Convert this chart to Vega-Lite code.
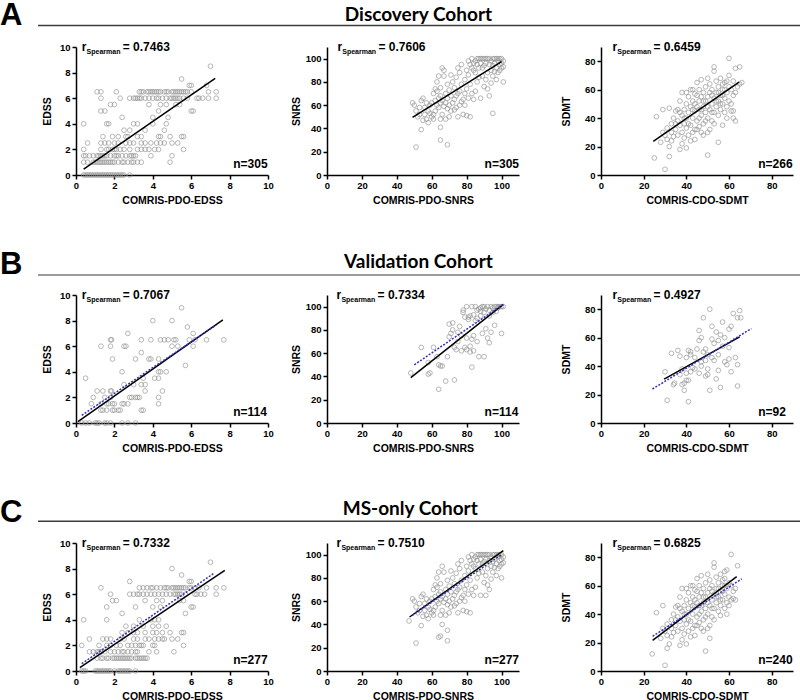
{
"$schema":"https://vega.github.io/schema/vega-lite/v6.json",
"padding":0,
"background":"white",
"config":{
 "view":{"stroke":null},
 "font":"Liberation Sans",
 "text":{"font":"Liberation Sans","color":"black"},
 "axis":{"grid":false,"labelOverlap":false,"tickCount":12,"domainColor":"black","domainWidth":1.5,"tickColor":"black","tickWidth":1.5,"tickSize":4,"labelFont":"Liberation Sans","labelFontWeight":"bold","labelFontSize":9.5,"labelColor":"black","labelFlush":false,"titleFont":"Liberation Sans","titleFontWeight":"bold","titleFontSize":10.5,"titleColor":"black"},
 "axisX":{"labelPadding":1,"titleY":28,"titleBaseline":"alphabetic"},
 "axisY":{"labelPadding":2,"titleAngle":270,"titleBaseline":"alphabetic","titleAlign":"center","titleY":64}
},
"datasets":{
"A_E":[
{"x":0.4,"y":0},{"x":0.5,"y":0},{"x":0.6,"y":0},{"x":0.7,"y":0},{"x":0.8,"y":0},{"x":0.9,"y":0},{"x":1,"y":0},{"x":1.1,"y":0},{"x":1.2,"y":0},{"x":1.3,"y":0},{"x":1.4,"y":0},{"x":1.5,"y":0},{"x":1.6,"y":0},{"x":1.7,"y":0},{"x":1.8,"y":0},{"x":1.9,"y":0},{"x":2,"y":0},{"x":2.1,"y":0},{"x":2.2,"y":0},{"x":2.3,"y":0},{"x":2.4,"y":0},{"x":2.5,"y":0},{"x":2.8,"y":0},
{"x":0.4,"y":1},{"x":0.6,"y":1},{"x":0.9,"y":1},{"x":1,"y":1},{"x":1.1,"y":1},{"x":1.2,"y":1},{"x":1.3,"y":1},{"x":1.4,"y":1},{"x":1.5,"y":1},{"x":1.6,"y":1},{"x":1.7,"y":1},{"x":1.8,"y":1},{"x":1.9,"y":1},{"x":2,"y":1},{"x":2.2,"y":1},{"x":2.4,"y":1},{"x":2.5,"y":1},{"x":2.7,"y":1},{"x":2.9,"y":1},{"x":3,"y":1},{"x":3.2,"y":1},{"x":3.4,"y":1},{"x":4.9,"y":1},
{"x":0.4,"y":1.5},{"x":0.5,"y":1.5},{"x":0.7,"y":1.5},{"x":0.9,"y":1.5},{"x":1.1,"y":1.5},{"x":1.2,"y":1.5},{"x":1.3,"y":1.5},{"x":1.4,"y":1.5},{"x":1.5,"y":1.5},{"x":1.6,"y":1.5},{"x":1.8,"y":1.5},{"x":2,"y":1.5},{"x":2.1,"y":1.5},{"x":2.2,"y":1.5},{"x":2.4,"y":1.5},{"x":2.6,"y":1.5},{"x":2.8,"y":1.5},{"x":2.9,"y":1.5},{"x":3,"y":1.5},{"x":3.1,"y":1.5},{"x":3.9,"y":1.5},{"x":5,"y":1.5},
{"x":0.4,"y":2},{"x":1.3,"y":2},{"x":1.6,"y":2},{"x":1.7,"y":2},{"x":1.9,"y":2},{"x":2,"y":2},{"x":2.1,"y":2},{"x":2.3,"y":2},{"x":2.5,"y":2},{"x":2.8,"y":2},{"x":3.2,"y":2},{"x":3.4,"y":2},{"x":3.6,"y":2},{"x":3.8,"y":2},{"x":4.1,"y":2},{"x":4.3,"y":2},{"x":5.6,"y":2},
{"x":0.6,"y":2.5},{"x":1.3,"y":2.5},{"x":1.5,"y":2.5},{"x":1.7,"y":2.5},{"x":2,"y":2.5},{"x":2.2,"y":2.5},{"x":2.6,"y":2.5},{"x":2.8,"y":2.5},{"x":3,"y":2.5},{"x":3.4,"y":2.5},{"x":3.6,"y":2.5},{"x":3.9,"y":2.5},{"x":4.2,"y":2.5},{"x":4.4,"y":2.5},{"x":4.6,"y":2.5},{"x":5,"y":2.5},{"x":5.3,"y":2.5},
{"x":1.4,"y":3},{"x":1.9,"y":3},{"x":2.2,"y":3},{"x":2.6,"y":3},{"x":2.7,"y":3},{"x":3.2,"y":3},{"x":3.4,"y":3},{"x":4.3,"y":3},{"x":4.4,"y":3},{"x":4.9,"y":3},{"x":5.5,"y":3},{"x":5.6,"y":3},
{"x":2.5,"y":3.5},{"x":2.8,"y":3.5},{"x":3.6,"y":3.5},{"x":4.6,"y":3.5},
{"x":0.4,"y":4},{"x":1.6,"y":4},{"x":1.7,"y":4},{"x":3,"y":4},{"x":3.2,"y":4},{"x":4,"y":4},{"x":4.7,"y":4},
{"x":2.4,"y":4.5},{"x":4,"y":4.5},{"x":4.8,"y":4.5},
{"x":1.3,"y":5},{"x":1.5,"y":5},{"x":4.3,"y":5},{"x":6,"y":5},{"x":6.1,"y":5},
{"x":1.8,"y":5.5},{"x":2,"y":5.5},{"x":3.8,"y":5.5},{"x":4.4,"y":5.5},{"x":4.7,"y":5.5},{"x":5.2,"y":5.5},{"x":5.4,"y":5.5},
{"x":1.3,"y":6},{"x":2.3,"y":6},{"x":2.8,"y":6},{"x":3,"y":6},{"x":3.1,"y":6},{"x":3.2,"y":6},{"x":3.3,"y":6},{"x":3.4,"y":6},{"x":3.6,"y":6},{"x":3.8,"y":6},{"x":4,"y":6},{"x":4.2,"y":6},{"x":4.3,"y":6},{"x":4.5,"y":6},{"x":4.7,"y":6},{"x":4.9,"y":6},{"x":5,"y":6},{"x":5.1,"y":6},{"x":5.2,"y":6},{"x":5.3,"y":6},{"x":5.4,"y":6},{"x":5.6,"y":6},{"x":5.8,"y":6},{"x":6.3,"y":6},{"x":6.4,"y":6},{"x":6.6,"y":6},{"x":6.9,"y":6},{"x":7.3,"y":6},
{"x":1.1,"y":6.5},{"x":1.3,"y":6.5},{"x":2.1,"y":6.5},{"x":3.3,"y":6.5},{"x":3.4,"y":6.5},{"x":3.5,"y":6.5},{"x":3.7,"y":6.5},{"x":3.8,"y":6.5},{"x":3.9,"y":6.5},{"x":4,"y":6.5},{"x":4.1,"y":6.5},{"x":4.2,"y":6.5},{"x":4.3,"y":6.5},{"x":4.4,"y":6.5},{"x":4.6,"y":6.5},{"x":4.7,"y":6.5},{"x":4.8,"y":6.5},{"x":5,"y":6.5},{"x":5.1,"y":6.5},{"x":5.2,"y":6.5},{"x":5.3,"y":6.5},{"x":5.4,"y":6.5},{"x":5.5,"y":6.5},{"x":5.6,"y":6.5},{"x":5.7,"y":6.5},{"x":5.8,"y":6.5},{"x":6,"y":6.5},{"x":6.9,"y":6.5},{"x":7.3,"y":6.5},
{"x":5.9,"y":7},{"x":6,"y":7},{"x":6.8,"y":7},{"x":5.5,"y":7.5},{"x":7,"y":8.5}
],
"A_S":[
{"x":51,"y":24},{"x":65,"y":30},{"x":69,"y":26},{"x":65,"y":41},{"x":54,"y":39},{"x":95,"y":53},{"x":101,"y":80},
{"x":49,"y":62},{"x":50,"y":60},{"x":51,"y":55},{"x":52,"y":50},{"x":53,"y":58},{"x":54,"y":64},{"x":55,"y":66},{"x":56,"y":52},{"x":57,"y":48},{"x":58,"y":45},{"x":58,"y":55},{"x":59,"y":60},{"x":60,"y":62},{"x":60,"y":50},{"x":56,"y":58},{"x":53,"y":52},{"x":55,"y":47},{"x":57,"y":62},{"x":59,"y":53},{"x":61,"y":48},
{"x":61,"y":70},{"x":62,"y":64},{"x":62,"y":55},{"x":63,"y":60},{"x":63,"y":72},{"x":64,"y":66},{"x":64,"y":58},{"x":65,"y":62},{"x":65,"y":68},{"x":65,"y":75},{"x":66,"y":52},{"x":66,"y":64},{"x":67,"y":59},{"x":67,"y":85},{"x":67,"y":90},{"x":68,"y":70},{"x":68,"y":62},{"x":68,"y":48},{"x":69,"y":57},{"x":69,"y":66},{"x":69,"y":78},{"x":70,"y":60},{"x":70,"y":73},{"x":66,"y":92},{"x":64,"y":85},{"x":63,"y":80},{"x":61,"y":52},{"x":62,"y":74},{"x":65,"y":48},{"x":70,"y":50},
{"x":71,"y":68},{"x":71,"y":55},{"x":72,"y":80},{"x":72,"y":62},{"x":73,"y":65},{"x":73,"y":75},{"x":74,"y":58},{"x":74,"y":84},{"x":75,"y":70},{"x":75,"y":50},{"x":76,"y":72},{"x":76,"y":88},{"x":77,"y":63},{"x":77,"y":78},{"x":78,"y":65},{"x":78,"y":52},{"x":79,"y":82},{"x":79,"y":70},{"x":80,"y":90},{"x":80,"y":74},{"x":71,"y":86},{"x":73,"y":56},{"x":75,"y":92},{"x":77,"y":95},{"x":79,"y":60},{"x":74,"y":68},{"x":76,"y":60},
{"x":81,"y":66},{"x":81,"y":86},{"x":82,"y":78},{"x":82,"y":95},{"x":83,"y":92},{"x":83,"y":70},{"x":84,"y":96},{"x":84,"y":65},{"x":85,"y":88},{"x":85,"y":98},{"x":86,"y":100},{"x":86,"y":80},{"x":87,"y":92},{"x":87,"y":100},{"x":88,"y":96},{"x":88,"y":66},{"x":89,"y":85},{"x":89,"y":100},{"x":90,"y":94},{"x":90,"y":76},{"x":81,"y":98},{"x":83,"y":100},{"x":84,"y":90},{"x":85,"y":72},{"x":86,"y":95},{"x":87,"y":84},{"x":88,"y":100},{"x":89,"y":92},{"x":82,"y":50},{"x":80,"y":51},
{"x":91,"y":100},{"x":91,"y":96},{"x":92,"y":88},{"x":92,"y":100},{"x":93,"y":95},{"x":93,"y":100},{"x":94,"y":90},{"x":94,"y":98},{"x":95,"y":100},{"x":95,"y":85},{"x":96,"y":96},{"x":96,"y":100},{"x":97,"y":92},{"x":97,"y":100},{"x":98,"y":98},{"x":98,"y":88},{"x":99,"y":100},{"x":99,"y":95},{"x":100,"y":100},{"x":100,"y":96},{"x":101,"y":98},{"x":101,"y":93},{"x":91,"y":82},{"x":92,"y":74},{"x":93,"y":68},{"x":94,"y":79},{"x":96,"y":89},{"x":97,"y":82},{"x":99,"y":90},{"x":90,"y":100},{"x":95,"y":94},{"x":98,"y":100},{"x":100,"y":92}
],
"A_D":[
{"x":25,"y":12},{"x":30,"y":4},{"x":26,"y":41},{"x":32,"y":13},{"x":29,"y":46},{"x":32,"y":47},{"x":50,"y":14},{"x":55,"y":23},{"x":60,"y":82},{"x":65,"y":76},{"x":63,"y":75},{"x":62,"y":40},{"x":63,"y":38},{"x":62,"y":45},{"x":57,"y":35},
{"x":28,"y":23},{"x":29,"y":30},{"x":30,"y":28},{"x":31,"y":33},{"x":31,"y":25},{"x":32,"y":20},{"x":33,"y":30},{"x":33,"y":36},{"x":34,"y":27},{"x":34,"y":40},{"x":35,"y":32},{"x":35,"y":45},{"x":36,"y":28},{"x":36,"y":38},{"x":37,"y":18},{"x":37,"y":35},{"x":37,"y":52},{"x":38,"y":30},{"x":38,"y":42},{"x":38,"y":58},{"x":39,"y":26},{"x":39,"y":36},{"x":39,"y":46},{"x":40,"y":19},{"x":40,"y":33},{"x":40,"y":40},{"x":40,"y":50},{"x":41,"y":28},{"x":41,"y":44},{"x":41,"y":55},{"x":42,"y":35},{"x":42,"y":48},{"x":42,"y":60},{"x":43,"y":30},{"x":43,"y":40},{"x":43,"y":52},{"x":44,"y":25},{"x":44,"y":45},{"x":44,"y":57},{"x":45,"y":38},{"x":45,"y":48},{"x":45,"y":65},{"x":46,"y":34},{"x":46,"y":52},{"x":46,"y":60},{"x":47,"y":42},{"x":47,"y":55},{"x":47,"y":67},{"x":48,"y":36},{"x":48,"y":48},{"x":48,"y":58},{"x":49,"y":44},{"x":49,"y":52},{"x":49,"y":62},{"x":50,"y":30},{"x":50,"y":40},{"x":50,"y":55},{"x":50,"y":68},{"x":51,"y":46},{"x":51,"y":58},{"x":51,"y":64},{"x":52,"y":38},{"x":52,"y":50},{"x":52,"y":60},{"x":53,"y":44},{"x":53,"y":54},{"x":53,"y":76},{"x":53,"y":73},{"x":54,"y":48},{"x":54,"y":58},{"x":54,"y":66},{"x":55,"y":42},{"x":55,"y":52},{"x":55,"y":62},{"x":56,"y":46},{"x":56,"y":56},{"x":56,"y":68},{"x":57,"y":50},{"x":57,"y":60},{"x":57,"y":64},{"x":58,"y":44},{"x":58,"y":54},{"x":58,"y":65},{"x":59,"y":48},{"x":59,"y":58},{"x":59,"y":66},{"x":60,"y":52},{"x":60,"y":62},{"x":60,"y":70},{"x":61,"y":50},{"x":61,"y":60},{"x":62,"y":56},{"x":62,"y":66},{"x":63,"y":58},{"x":64,"y":62},{"x":65,"y":64},{"x":66,"y":65},{"x":36,"y":46},{"x":38,"y":22},{"x":40,"y":58},{"x":42,"y":24},{"x":44,"y":32},{"x":46,"y":40},{"x":48,"y":28},{"x":47,"y":46},{"x":45,"y":56},{"x":43,"y":46},{"x":41,"y":36},{"x":39,"y":40},{"x":37,"y":44},{"x":35,"y":36},{"x":33,"y":24},{"x":44,"y":50},{"x":46,"y":46},{"x":48,"y":52},{"x":50,"y":48},{"x":52,"y":56},{"x":54,"y":52},{"x":56,"y":50},{"x":58,"y":60},{"x":52,"y":44},{"x":49,"y":38},{"x":51,"y":32},{"x":47,"y":30},{"x":43,"y":60},{"x":45,"y":32},{"x":53,"y":36},{"x":55,"y":58},{"x":57,"y":56},{"x":59,"y":40},{"x":61,"y":45}
],
"B_E":[
{"x":0.3,"y":0},{"x":0.5,"y":0},{"x":0.7,"y":0},{"x":1,"y":0},{"x":1.1,"y":0},{"x":1.2,"y":0},{"x":1.5,"y":0},{"x":1.6,"y":0},{"x":1.8,"y":0},{"x":2.4,"y":0},{"x":2.7,"y":0},{"x":3.1,"y":0},
{"x":1.3,"y":1},{"x":1.4,"y":1},{"x":1.6,"y":1},{"x":1.9,"y":1},{"x":2,"y":1},{"x":2.2,"y":1},{"x":2.3,"y":1},{"x":3.4,"y":1},{"x":3.5,"y":1},
{"x":0.8,"y":1.5},{"x":1.3,"y":1.5},{"x":1.6,"y":1.5},{"x":1.7,"y":1.5},{"x":1.9,"y":1.5},{"x":2,"y":1.5},{"x":2.4,"y":1.5},{"x":2.5,"y":1.5},{"x":2.7,"y":1.5},{"x":4.3,"y":1.5},
{"x":0.9,"y":2},{"x":1.5,"y":2},{"x":1.8,"y":2},{"x":2.8,"y":2},{"x":2.9,"y":2},{"x":3.1,"y":2},{"x":3.2,"y":2},{"x":3.3,"y":2},{"x":4.3,"y":2},
{"x":1.1,"y":2.5},{"x":1.4,"y":2.5},{"x":1.8,"y":2.5},{"x":1.85,"y":2.5},{"x":3.6,"y":2.5},{"x":4.5,"y":2.5},
{"x":2.5,"y":3},{"x":3,"y":3},{"x":3.4,"y":3},{"x":3.6,"y":3},
{"x":0.5,"y":3.5},{"x":3.5,"y":3.5},{"x":4.1,"y":3.5},{"x":4.3,"y":3.5},
{"x":2.4,"y":4},{"x":4.3,"y":4},{"x":4.4,"y":4},{"x":4.7,"y":4},
{"x":5.7,"y":4.5},
{"x":1.9,"y":5},{"x":3.1,"y":5},{"x":3.8,"y":5},{"x":3.9,"y":5},{"x":4.3,"y":5},
{"x":3.4,"y":5.5},
{"x":1.3,"y":6},{"x":1.8,"y":6},{"x":2.5,"y":6},{"x":2.6,"y":6},{"x":5,"y":6},{"x":5.3,"y":6},{"x":6.1,"y":6},
{"x":1.8,"y":6.5},{"x":1.85,"y":6.5},{"x":3.4,"y":6.5},{"x":3.9,"y":6.5},{"x":4.4,"y":6.5},{"x":4.6,"y":6.5},{"x":4.8,"y":6.5},{"x":5.1,"y":6.5},{"x":5.2,"y":6.5},{"x":5.9,"y":6.5},{"x":6.2,"y":6.5},{"x":6.8,"y":6.5},{"x":7.7,"y":6.5},
{"x":2.7,"y":7},{"x":6.1,"y":7},{"x":5.8,"y":7.5},{"x":4,"y":8},{"x":5,"y":8},{"x":5.5,"y":9}
],
"B_S":[
{"x":48,"y":43},{"x":54,"y":65},{"x":58,"y":42},{"x":59,"y":43},{"x":58,"y":52},{"x":61,"y":65},{"x":63,"y":57},{"x":64,"y":50},{"x":65,"y":49},{"x":66,"y":49},{"x":64,"y":29},{"x":68,"y":36},{"x":73,"y":37},{"x":69,"y":57},{"x":70,"y":74},{"x":70,"y":85},{"x":72,"y":86},{"x":71,"y":77},{"x":72,"y":80},{"x":73,"y":65},{"x":74,"y":63},{"x":75,"y":70},{"x":75,"y":78},{"x":76,"y":83},{"x":77,"y":62},{"x":78,"y":95},{"x":78,"y":97},{"x":79,"y":65},{"x":80,"y":63},{"x":80,"y":73},{"x":81,"y":89},{"x":81,"y":91},{"x":82,"y":61},{"x":82,"y":66},{"x":83,"y":48},{"x":83,"y":72},{"x":84,"y":75},{"x":84,"y":93},{"x":85,"y":100},{"x":85,"y":88},{"x":86,"y":97},{"x":86,"y":70},{"x":87,"y":98},{"x":87,"y":57},{"x":88,"y":99},{"x":88,"y":92},{"x":89,"y":100},{"x":89,"y":77},{"x":90,"y":57},{"x":90,"y":100},{"x":91,"y":98},{"x":91,"y":81},{"x":92,"y":73},{"x":92,"y":100},{"x":93,"y":69},{"x":93,"y":97},{"x":94,"y":100},{"x":94,"y":78},{"x":95,"y":99},{"x":95,"y":95},{"x":96,"y":100},{"x":96,"y":84},{"x":97,"y":100},{"x":97,"y":96},{"x":98,"y":99},{"x":98,"y":100},{"x":99,"y":100},{"x":100,"y":100},{"x":100,"y":77},{"x":101,"y":100},{"x":83,"y":100},{"x":80,"y":100},{"x":82,"y":92},{"x":86,"y":90},{"x":84,"y":62},{"x":77,"y":75},{"x":79,"y":91},{"x":90,"y":95},{"x":93,"y":92},{"x":88,"y":96}
],
"B_D":[
{"x":30,"y":36},{"x":31,"y":16},{"x":33,"y":49},{"x":34,"y":27},{"x":34.5,"y":28},{"x":36,"y":51},{"x":37,"y":47},{"x":37,"y":34},{"x":38,"y":38},{"x":38,"y":27},{"x":39,"y":23},{"x":39,"y":28},{"x":40,"y":30},{"x":40,"y":35},{"x":40,"y":46},{"x":41,"y":15},{"x":41,"y":51},{"x":41,"y":30},{"x":42,"y":50},{"x":42,"y":36},{"x":43,"y":39},{"x":44,"y":46},{"x":44,"y":38},{"x":45,"y":52},{"x":46,"y":65},{"x":46,"y":58},{"x":47,"y":60},{"x":47,"y":43},{"x":47,"y":40},{"x":48,"y":74},{"x":48,"y":50},{"x":49,"y":52},{"x":49,"y":44},{"x":50,"y":48},{"x":50,"y":38},{"x":50,"y":34},{"x":51,"y":80},{"x":51,"y":23},{"x":52,"y":68},{"x":52,"y":59},{"x":52,"y":46},{"x":53,"y":56},{"x":53,"y":44},{"x":54,"y":64},{"x":54,"y":31},{"x":55,"y":58},{"x":55,"y":37},{"x":55,"y":48},{"x":56,"y":62},{"x":56,"y":25},{"x":57,"y":54},{"x":57,"y":71},{"x":58,"y":43},{"x":58,"y":60},{"x":59,"y":41},{"x":60,"y":53},{"x":60,"y":66},{"x":60,"y":45},{"x":61,"y":36},{"x":61,"y":68},{"x":62,"y":77},{"x":63,"y":46},{"x":64,"y":41},{"x":64,"y":26},{"x":64,"y":74},{"x":65,"y":79},{"x":65.5,"y":74},{"x":49,"y":33},{"x":46,"y":35},{"x":42,"y":48}
],
"C_E":[
{"x":0.3,"y":0},{"x":0.4,"y":0},{"x":0.5,"y":0},{"x":1,"y":0},{"x":1.1,"y":0},{"x":1.2,"y":0},{"x":1.3,"y":0},{"x":1.4,"y":0},{"x":1.5,"y":0},{"x":1.6,"y":0},{"x":1.7,"y":0},{"x":1.8,"y":0},{"x":2,"y":0},{"x":2.2,"y":0},{"x":2.3,"y":0},{"x":2.4,"y":0},{"x":2.5,"y":0},{"x":2.6,"y":0},{"x":2.7,"y":0},{"x":2.8,"y":0},{"x":3.1,"y":0},
{"x":1.1,"y":1},{"x":1.3,"y":1},{"x":1.4,"y":1},{"x":1.6,"y":1},{"x":1.7,"y":1},{"x":1.9,"y":1},{"x":2,"y":1},{"x":2.1,"y":1},{"x":2.2,"y":1},{"x":2.3,"y":1},{"x":2.4,"y":1},{"x":2.5,"y":1},{"x":2.6,"y":1},{"x":2.7,"y":1},{"x":2.8,"y":1},{"x":2.9,"y":1},{"x":3.1,"y":1},{"x":3.2,"y":1},{"x":3.3,"y":1},{"x":3.4,"y":1},{"x":3.5,"y":1},{"x":3.6,"y":1},{"x":3.7,"y":1},
{"x":0.7,"y":1.5},{"x":0.9,"y":1.5},{"x":1.1,"y":1.5},{"x":1.2,"y":1.5},{"x":1.3,"y":1.5},{"x":1.5,"y":1.5},{"x":1.8,"y":1.5},{"x":2,"y":1.5},{"x":2.2,"y":1.5},{"x":2.4,"y":1.5},{"x":2.5,"y":1.5},{"x":2.7,"y":1.5},{"x":2.9,"y":1.5},{"x":3.1,"y":1.5},{"x":3.2,"y":1.5},{"x":3.8,"y":1.5},{"x":4.2,"y":1.5},{"x":5.1,"y":1.5},
{"x":0.3,"y":2},{"x":1.2,"y":2},{"x":1.6,"y":2},{"x":1.8,"y":2},{"x":2.1,"y":2},{"x":2.3,"y":2},{"x":2.7,"y":2},{"x":2.9,"y":2},{"x":3.1,"y":2},{"x":3.3,"y":2},{"x":3.4,"y":2},{"x":3.5,"y":2},{"x":4,"y":2},{"x":4.1,"y":2},{"x":5.6,"y":2},
{"x":0.7,"y":2.5},{"x":1.4,"y":2.5},{"x":1.6,"y":2.5},{"x":1.8,"y":2.5},{"x":2.3,"y":2.5},{"x":2.5,"y":2.5},{"x":3,"y":2.5},{"x":3.2,"y":2.5},{"x":3.6,"y":2.5},{"x":3.8,"y":2.5},{"x":4.1,"y":2.5},{"x":4.3,"y":2.5},{"x":4.5,"y":2.5},{"x":4.6,"y":2.5},{"x":5,"y":2.5},{"x":5.3,"y":2.5},
{"x":2.4,"y":3},{"x":2.7,"y":3},{"x":3,"y":3},{"x":3.2,"y":3},{"x":3.6,"y":3},{"x":4,"y":3},{"x":4.2,"y":3},{"x":4.5,"y":3},{"x":4.9,"y":3},{"x":5.5,"y":3},{"x":5.6,"y":3},
{"x":2.6,"y":3.5},{"x":3,"y":3.5},{"x":3.5,"y":3.5},{"x":4,"y":3.5},{"x":4.3,"y":3.5},{"x":4.7,"y":3.5},
{"x":0.4,"y":4},{"x":1.6,"y":4},{"x":3.3,"y":4},{"x":3.9,"y":4},{"x":4.1,"y":4},{"x":4.3,"y":4},
{"x":2.4,"y":4.5},{"x":5.7,"y":4.5},
{"x":1.6,"y":5},{"x":3.1,"y":5},{"x":4,"y":5},{"x":4.4,"y":5},{"x":6,"y":5},{"x":6.1,"y":5},
{"x":1.9,"y":5.5},{"x":2.1,"y":5.5},{"x":3.6,"y":5.5},{"x":4.2,"y":5.5},{"x":4.5,"y":5.5},{"x":5.4,"y":5.5},{"x":5.6,"y":5.5},
{"x":1.8,"y":6},{"x":2.8,"y":6},{"x":3,"y":6},{"x":3.2,"y":6},{"x":3.3,"y":6},{"x":3.5,"y":6},{"x":3.7,"y":6},{"x":3.9,"y":6},{"x":4.1,"y":6},{"x":4.3,"y":6},{"x":4.5,"y":6},{"x":4.7,"y":6},{"x":4.9,"y":6},{"x":5.1,"y":6},{"x":5.2,"y":6},{"x":5.3,"y":6},{"x":5.4,"y":6},{"x":5.5,"y":6},{"x":5.7,"y":6},{"x":6.2,"y":6},{"x":6.3,"y":6},{"x":6.5,"y":6},{"x":6.7,"y":6},{"x":7.3,"y":6},
{"x":1.3,"y":6.5},{"x":3.3,"y":6.5},{"x":3.5,"y":6.5},{"x":3.7,"y":6.5},{"x":3.9,"y":6.5},{"x":4,"y":6.5},{"x":4.2,"y":6.5},{"x":4.4,"y":6.5},{"x":4.6,"y":6.5},{"x":4.7,"y":6.5},{"x":4.8,"y":6.5},{"x":5,"y":6.5},{"x":5.1,"y":6.5},{"x":5.2,"y":6.5},{"x":5.3,"y":6.5},{"x":5.4,"y":6.5},{"x":5.5,"y":6.5},{"x":5.6,"y":6.5},{"x":5.7,"y":6.5},{"x":5.9,"y":6.5},{"x":6,"y":6.5},{"x":6.2,"y":6.5},{"x":6.4,"y":6.5},{"x":6.8,"y":6.5},{"x":7.3,"y":6.5},{"x":7.7,"y":6.5},
{"x":2.8,"y":7},{"x":5.9,"y":7},{"x":6,"y":7},{"x":5.5,"y":7.5},{"x":5,"y":8},{"x":7,"y":8.5}
],
"C_S":[
{"x":51,"y":24},{"x":64,"y":29},{"x":65,"y":30},{"x":69,"y":26},{"x":69,"y":35},{"x":66,"y":40},{"x":54,"y":39},{"x":47,"y":43},{"x":88,"y":65},{"x":91,"y":65},{"x":100,"y":80},
{"x":49,"y":62},{"x":50,"y":60},{"x":51,"y":55},{"x":52,"y":50},{"x":53,"y":58},{"x":54,"y":64},{"x":55,"y":66},{"x":56,"y":52},{"x":57,"y":48},{"x":58,"y":45},{"x":58,"y":55},{"x":59,"y":60},{"x":60,"y":62},{"x":60,"y":50},{"x":56,"y":58},{"x":53,"y":52},{"x":55,"y":47},{"x":57,"y":62},{"x":59,"y":53},{"x":61,"y":48},
{"x":61,"y":70},{"x":62,"y":64},{"x":62,"y":55},{"x":63,"y":60},{"x":63,"y":72},{"x":64,"y":66},{"x":64,"y":58},{"x":65,"y":62},{"x":65,"y":68},{"x":65,"y":75},{"x":66,"y":52},{"x":66,"y":64},{"x":67,"y":59},{"x":67,"y":85},{"x":66,"y":90},{"x":68,"y":70},{"x":68,"y":62},{"x":68,"y":48},{"x":69,"y":57},{"x":69,"y":66},{"x":69,"y":78},{"x":70,"y":60},{"x":70,"y":73},{"x":64,"y":85},{"x":63,"y":80},{"x":61,"y":52},{"x":62,"y":74},{"x":65,"y":48},{"x":70,"y":50},
{"x":71,"y":68},{"x":71,"y":55},{"x":72,"y":80},{"x":72,"y":62},{"x":73,"y":65},{"x":73,"y":75},{"x":74,"y":58},{"x":74,"y":84},{"x":75,"y":70},{"x":75,"y":50},{"x":76,"y":72},{"x":76,"y":88},{"x":77,"y":63},{"x":77,"y":78},{"x":78,"y":65},{"x":78,"y":52},{"x":79,"y":82},{"x":79,"y":70},{"x":80,"y":90},{"x":80,"y":74},{"x":71,"y":86},{"x":73,"y":56},{"x":75,"y":92},{"x":77,"y":95},{"x":79,"y":60},{"x":74,"y":68},{"x":76,"y":60},
{"x":81,"y":66},{"x":81,"y":86},{"x":82,"y":78},{"x":82,"y":95},{"x":83,"y":92},{"x":83,"y":70},{"x":84,"y":96},{"x":84,"y":65},{"x":85,"y":88},{"x":85,"y":98},{"x":86,"y":100},{"x":86,"y":80},{"x":87,"y":92},{"x":87,"y":100},{"x":88,"y":96},{"x":89,"y":85},{"x":89,"y":100},{"x":90,"y":94},{"x":90,"y":76},{"x":81,"y":98},{"x":83,"y":100},{"x":84,"y":90},{"x":85,"y":72},{"x":86,"y":95},{"x":87,"y":84},{"x":88,"y":100},{"x":89,"y":92},{"x":82,"y":50},{"x":80,"y":51},
{"x":91,"y":100},{"x":91,"y":96},{"x":92,"y":88},{"x":92,"y":100},{"x":93,"y":95},{"x":93,"y":100},{"x":94,"y":90},{"x":94,"y":98},{"x":95,"y":100},{"x":95,"y":85},{"x":96,"y":96},{"x":96,"y":100},{"x":97,"y":92},{"x":97,"y":100},{"x":98,"y":98},{"x":98,"y":88},{"x":99,"y":100},{"x":99,"y":95},{"x":100,"y":100},{"x":100,"y":96},{"x":101,"y":98},{"x":101,"y":93},{"x":91,"y":82},{"x":92,"y":74},{"x":93,"y":70},{"x":94,"y":79},{"x":96,"y":89},{"x":97,"y":82},{"x":99,"y":90},{"x":90,"y":100},{"x":95,"y":94},{"x":98,"y":100},{"x":100,"y":92}
],
"C_D":[
{"x":24,"y":12},{"x":30,"y":4},{"x":26,"y":41},{"x":31,"y":16},{"x":32,"y":19},{"x":29,"y":46},{"x":49,"y":14},{"x":51,"y":23},{"x":61,"y":82},{"x":64,"y":74},{"x":58,"y":70},{"x":62,"y":51},{"x":63,"y":50},{"x":56,"y":39},{"x":59,"y":71},
{"x":28,"y":23},{"x":29,"y":30},{"x":30,"y":28},{"x":31,"y":33},{"x":31,"y":25},{"x":33,"y":30},{"x":33,"y":36},{"x":34,"y":27},{"x":34,"y":40},{"x":35,"y":32},{"x":35,"y":45},{"x":36,"y":28},{"x":36,"y":38},{"x":37,"y":18},{"x":37,"y":35},{"x":37,"y":52},{"x":38,"y":30},{"x":38,"y":42},{"x":38,"y":58},{"x":39,"y":26},{"x":39,"y":36},{"x":39,"y":46},{"x":40,"y":19},{"x":40,"y":33},{"x":40,"y":40},{"x":40,"y":50},{"x":41,"y":28},{"x":41,"y":44},{"x":41,"y":55},{"x":42,"y":35},{"x":42,"y":48},{"x":42,"y":60},{"x":43,"y":30},{"x":43,"y":40},{"x":43,"y":52},{"x":44,"y":25},{"x":44,"y":45},{"x":44,"y":57},{"x":45,"y":38},{"x":45,"y":48},{"x":45,"y":65},{"x":46,"y":34},{"x":46,"y":52},{"x":46,"y":60},{"x":47,"y":42},{"x":47,"y":55},{"x":47,"y":67},{"x":48,"y":36},{"x":48,"y":48},{"x":48,"y":58},{"x":49,"y":44},{"x":49,"y":52},{"x":49,"y":62},{"x":50,"y":30},{"x":50,"y":40},{"x":50,"y":55},{"x":50,"y":68},{"x":51,"y":46},{"x":51,"y":58},{"x":51,"y":64},{"x":52,"y":38},{"x":52,"y":50},{"x":52,"y":60},{"x":53,"y":44},{"x":53,"y":54},{"x":53,"y":76},{"x":53,"y":73},{"x":54,"y":48},{"x":54,"y":58},{"x":54,"y":66},{"x":55,"y":42},{"x":55,"y":52},{"x":55,"y":62},{"x":56,"y":46},{"x":56,"y":56},{"x":56,"y":68},{"x":57,"y":50},{"x":57,"y":60},{"x":57,"y":64},{"x":58,"y":44},{"x":58,"y":54},{"x":58,"y":65},{"x":59,"y":48},{"x":59,"y":58},{"x":60,"y":52},{"x":60,"y":62},{"x":61,"y":50},{"x":61,"y":60},{"x":62,"y":56},{"x":63,"y":58},{"x":36,"y":46},{"x":38,"y":22},{"x":40,"y":58},{"x":42,"y":24},{"x":44,"y":32},{"x":46,"y":40},{"x":48,"y":28},{"x":47,"y":46},{"x":45,"y":56},{"x":43,"y":46},{"x":41,"y":36},{"x":39,"y":40},{"x":37,"y":44},{"x":35,"y":36},{"x":33,"y":24},{"x":44,"y":50},{"x":46,"y":46},{"x":48,"y":52},{"x":50,"y":48},{"x":52,"y":56},{"x":54,"y":52},{"x":56,"y":50},{"x":58,"y":60},{"x":52,"y":44},{"x":49,"y":38},{"x":51,"y":32},{"x":47,"y":30},{"x":43,"y":60},{"x":45,"y":32},{"x":53,"y":36},{"x":55,"y":58},{"x":57,"y":56},{"x":59,"y":40},{"x":60,"y":46}
]
},
"columns":5,
"spacing":{"row":120,"column":0},
"bounds":"flush",
"concat":[
{"width":192,"height":128,"data":{"values":[{"r":"= 0.7463","n":"n=305","letter":"A","title":"Discovery Cohort"}]},
 "layer":[
  {"data":{"name":"A_E"},"mark":{"type":"point","shape":"circle","filled":false,"color":"#8c8c8c","size":22,"strokeWidth":0.9},
   "encoding":{"x":{"field":"x","type":"quantitative","scale":{"domain":[0,10],"nice":false},"axis":{"values":[0,2,4,6,8,10],"tickCount":12,"title":"COMRIS-PDO-EDSS"}},
    "y":{"field":"y","type":"quantitative","scale":{"domain":[0,10],"nice":false},"axis":{"values":[0,2,4,6,8,10],"tickCount":12,"title":"EDSS","titleX":-26}}}},
  {"data":{"values":[{"x1":0.4,"y1":0.45,"x2":7.25,"y2":7.55}]},"mark":{"type":"rule","color":"black","strokeWidth":1.5},
   "encoding":{"x":{"field":"x1","type":"quantitative"},"y":{"field":"y1","type":"quantitative"},"x2":{"field":"x2"},"y2":{"field":"y2"}}},
  {"mark":{"type":"text","text":"r","fontSize":12,"fontWeight":"bold","align":"left","baseline":"alphabetic","dy":3.5},"encoding":{"x":{"datum":0.3,"type":"quantitative"},"y":{"datum":10,"type":"quantitative"}}},
  {"mark":{"type":"text","text":"Spearman","fontSize":7,"fontWeight":"bold","align":"left","baseline":"alphabetic","dx":4.8,"dy":6.5},"encoding":{"x":{"datum":0.3,"type":"quantitative"},"y":{"datum":10,"type":"quantitative"}}},
  {"mark":{"type":"text","fontSize":12,"fontWeight":"bold","align":"left","baseline":"alphabetic","dx":41,"dy":3.5},"encoding":{"x":{"datum":0.3,"type":"quantitative"},"y":{"datum":10,"type":"quantitative"},"text":{"field":"r"}}},
  {"mark":{"type":"text","fontSize":12,"fontWeight":"bold","align":"left","baseline":"alphabetic","dy":-7.5},"encoding":{"x":{"datum":8.19,"type":"quantitative"},"y":{"datum":0,"type":"quantitative"},"text":{"field":"n"}}},
  {"mark":{"type":"text","fontSize":31,"fontWeight":"bold","align":"left","baseline":"alphabetic"},"encoding":{"x":{"datum":-3.958,"type":"quantitative"},"y":{"datum":11.7,"type":"quantitative"},"text":{"field":"letter"}}},
  {"mark":{"type":"rule","color":"#3c3c3c","strokeWidth":1.6},"encoding":{"x":{"datum":-1.979,"type":"quantitative"},"x2":{"datum":37.71},"y":{"datum":11.68,"type":"quantitative"}}},
  {"mark":{"type":"text","font":"Lato","fontSize":19,"fontWeight":"bold","align":"left","baseline":"alphabetic"},"encoding":{"x":{"datum":14.0,"type":"quantitative"},"y":{"datum":12.03,"type":"quantitative"},"text":{"field":"title"}}}
 ]},
{"width":59,"height":128,"data":{"values":[]},"mark":"point"},
{"width":192,"height":128,"data":{"values":[{"r":"= 0.7606","n":"n=305"}]},
 "layer":[
  {"data":{"name":"A_S"},"mark":{"type":"point","shape":"circle","filled":false,"color":"#8c8c8c","size":22,"strokeWidth":0.9},
   "encoding":{"x":{"field":"x","type":"quantitative","scale":{"domain":[0,110],"nice":false},"axis":{"values":[0,20,40,60,80,100],"tickCount":12,"title":"COMRIS-PDO-SNRS"}},
    "y":{"field":"y","type":"quantitative","scale":{"domain":[0,110],"nice":false},"axis":{"values":[0,20,40,60,80,100],"tickCount":12,"title":"SNRS","titleX":-27.5}}}},
  {"data":{"values":[{"x1":49,"y1":49.5,"x2":100,"y2":97.5}]},"mark":{"type":"rule","color":"black","strokeWidth":1.5},
   "encoding":{"x":{"field":"x1","type":"quantitative"},"y":{"field":"y1","type":"quantitative"},"x2":{"field":"x2"},"y2":{"field":"y2"}}},
  {"mark":{"type":"text","text":"r","fontSize":12,"fontWeight":"bold","align":"left","baseline":"alphabetic","dy":3.5},"encoding":{"x":{"datum":6,"type":"quantitative"},"y":{"datum":110,"type":"quantitative"}}},
  {"mark":{"type":"text","text":"Spearman","fontSize":7,"fontWeight":"bold","align":"left","baseline":"alphabetic","dx":4.8,"dy":6.5},"encoding":{"x":{"datum":6,"type":"quantitative"},"y":{"datum":110,"type":"quantitative"}}},
  {"mark":{"type":"text","fontSize":12,"fontWeight":"bold","align":"left","baseline":"alphabetic","dx":41,"dy":3.5},"encoding":{"x":{"datum":6,"type":"quantitative"},"y":{"datum":110,"type":"quantitative"},"text":{"field":"r"}}},
  {"mark":{"type":"text","fontSize":12,"fontWeight":"bold","align":"left","baseline":"alphabetic","dy":-7.5},"encoding":{"x":{"datum":90.3,"type":"quantitative"},"y":{"datum":0,"type":"quantitative"},"text":{"field":"n"}}}
 ]},
{"width":82,"height":128,"data":{"values":[]},"mark":"point"},
{"width":192,"height":128,"data":{"values":[{"r":"= 0.6459","n":"n=266"}]},
 "layer":[
  {"data":{"name":"A_D"},"mark":{"type":"point","shape":"circle","filled":false,"color":"#8c8c8c","size":22,"strokeWidth":0.9},
   "encoding":{"x":{"field":"x","type":"quantitative","scale":{"domain":[0,90],"nice":false},"axis":{"values":[0,20,40,60,80],"tickCount":12,"title":"COMRIS-CDO-SDMT"}},
    "y":{"field":"y","type":"quantitative","scale":{"domain":[0,90],"nice":false},"axis":{"values":[0,20,40,60,80],"tickCount":12,"title":"SDMT","titleX":-31.5}}}},
  {"data":{"values":[{"x1":24.5,"y1":23.6,"x2":64.7,"y2":65.3}]},"mark":{"type":"rule","color":"black","strokeWidth":1.5},
   "encoding":{"x":{"field":"x1","type":"quantitative"},"y":{"field":"y1","type":"quantitative"},"x2":{"field":"x2"},"y2":{"field":"y2"}}},
  {"mark":{"type":"text","text":"r","fontSize":12,"fontWeight":"bold","align":"left","baseline":"alphabetic","dy":3.5},"encoding":{"x":{"datum":5.4,"type":"quantitative"},"y":{"datum":90,"type":"quantitative"}}},
  {"mark":{"type":"text","text":"Spearman","fontSize":7,"fontWeight":"bold","align":"left","baseline":"alphabetic","dx":4.8,"dy":6.5},"encoding":{"x":{"datum":5.4,"type":"quantitative"},"y":{"datum":90,"type":"quantitative"}}},
  {"mark":{"type":"text","fontSize":12,"fontWeight":"bold","align":"left","baseline":"alphabetic","dx":41,"dy":3.5},"encoding":{"x":{"datum":5.4,"type":"quantitative"},"y":{"datum":90,"type":"quantitative"},"text":{"field":"r"}}},
  {"mark":{"type":"text","fontSize":12,"fontWeight":"bold","align":"left","baseline":"alphabetic","dy":-7.5},"encoding":{"x":{"datum":73.7,"type":"quantitative"},"y":{"datum":0,"type":"quantitative"},"text":{"field":"n"}}}
 ]},
{"width":192,"height":128,"data":{"values":[{"r":"= 0.7067","n":"n=114","letter":"B","title":"Validation Cohort"}]},
 "layer":[
  {"data":{"name":"B_E"},"mark":{"type":"point","shape":"circle","filled":false,"color":"#8c8c8c","size":22,"strokeWidth":0.9},
   "encoding":{"x":{"field":"x","type":"quantitative","scale":{"domain":[0,10],"nice":false},"axis":{"values":[0,2,4,6,8,10],"tickCount":12,"title":"COMRIS-PDO-EDSS"}},
    "y":{"field":"y","type":"quantitative","scale":{"domain":[0,10],"nice":false},"axis":{"values":[0,2,4,6,8,10],"tickCount":12,"title":"EDSS","titleX":-26}}}},
  {"data":{"values":[{"x1":0.1,"y1":0.1,"x2":7.65,"y2":8.05}]},"mark":{"type":"rule","color":"black","strokeWidth":1.5},
   "encoding":{"x":{"field":"x1","type":"quantitative"},"y":{"field":"y1","type":"quantitative"},"x2":{"field":"x2"},"y2":{"field":"y2"}}},
  {"data":{"values":[{"x1":0.3,"y1":0.6,"x2":7.3,"y2":7.65}]},"mark":{"type":"rule","color":"#3333b3","strokeWidth":1.5,"strokeDash":[2,1.5]},
   "encoding":{"x":{"field":"x1","type":"quantitative"},"y":{"field":"y1","type":"quantitative"},"x2":{"field":"x2"},"y2":{"field":"y2"}}},
  {"mark":{"type":"text","text":"r","fontSize":12,"fontWeight":"bold","align":"left","baseline":"alphabetic","dy":3.5},"encoding":{"x":{"datum":0.3,"type":"quantitative"},"y":{"datum":10,"type":"quantitative"}}},
  {"mark":{"type":"text","text":"Spearman","fontSize":7,"fontWeight":"bold","align":"left","baseline":"alphabetic","dx":4.8,"dy":6.5},"encoding":{"x":{"datum":0.3,"type":"quantitative"},"y":{"datum":10,"type":"quantitative"}}},
  {"mark":{"type":"text","fontSize":12,"fontWeight":"bold","align":"left","baseline":"alphabetic","dx":41,"dy":3.5},"encoding":{"x":{"datum":0.3,"type":"quantitative"},"y":{"datum":10,"type":"quantitative"},"text":{"field":"r"}}},
  {"mark":{"type":"text","fontSize":12,"fontWeight":"bold","align":"left","baseline":"alphabetic","dy":-7.5},"encoding":{"x":{"datum":8.19,"type":"quantitative"},"y":{"datum":0,"type":"quantitative"},"text":{"field":"n"}}},
  {"mark":{"type":"text","fontSize":31,"fontWeight":"bold","align":"left","baseline":"alphabetic"},"encoding":{"x":{"datum":-3.958,"type":"quantitative"},"y":{"datum":11.64,"type":"quantitative"},"text":{"field":"letter"}}},
  {"mark":{"type":"rule","color":"#9a9a9a","strokeWidth":2},"encoding":{"x":{"datum":-1.979,"type":"quantitative"},"x2":{"datum":37.71},"y":{"datum":11.56,"type":"quantitative"}}},
  {"mark":{"type":"text","font":"Lato","fontSize":19,"fontWeight":"bold","align":"left","baseline":"alphabetic"},"encoding":{"x":{"datum":13.96,"type":"quantitative"},"y":{"datum":12.09,"type":"quantitative"},"text":{"field":"title"}}}
 ]},
{"width":59,"height":128,"data":{"values":[]},"mark":"point"},
{"width":192,"height":128,"data":{"values":[{"r":"= 0.7334","n":"n=114"}]},
 "layer":[
  {"data":{"name":"B_S"},"mark":{"type":"point","shape":"circle","filled":false,"color":"#8c8c8c","size":22,"strokeWidth":0.9},
   "encoding":{"x":{"field":"x","type":"quantitative","scale":{"domain":[0,110],"nice":false},"axis":{"values":[0,20,40,60,80,100],"tickCount":12,"title":"COMRIS-PDO-SNRS"}},
    "y":{"field":"y","type":"quantitative","scale":{"domain":[0,110],"nice":false},"axis":{"values":[0,20,40,60,80,100],"tickCount":12,"title":"SNRS","titleX":-27.5}}}},
  {"data":{"values":[{"x1":48,"y1":39,"x2":101,"y2":102}]},"mark":{"type":"rule","color":"black","strokeWidth":1.5},
   "encoding":{"x":{"field":"x1","type":"quantitative"},"y":{"field":"y1","type":"quantitative"},"x2":{"field":"x2"},"y2":{"field":"y2"}}},
  {"data":{"values":[{"x1":50,"y1":50,"x2":101,"y2":102}]},"mark":{"type":"rule","color":"#3333b3","strokeWidth":1.5,"strokeDash":[2,1.5]},
   "encoding":{"x":{"field":"x1","type":"quantitative"},"y":{"field":"y1","type":"quantitative"},"x2":{"field":"x2"},"y2":{"field":"y2"}}},
  {"mark":{"type":"text","text":"r","fontSize":12,"fontWeight":"bold","align":"left","baseline":"alphabetic","dy":3.5},"encoding":{"x":{"datum":5.5,"type":"quantitative"},"y":{"datum":110,"type":"quantitative"}}},
  {"mark":{"type":"text","text":"Spearman","fontSize":7,"fontWeight":"bold","align":"left","baseline":"alphabetic","dx":4.8,"dy":6.5},"encoding":{"x":{"datum":5.5,"type":"quantitative"},"y":{"datum":110,"type":"quantitative"}}},
  {"mark":{"type":"text","fontSize":12,"fontWeight":"bold","align":"left","baseline":"alphabetic","dx":41,"dy":3.5},"encoding":{"x":{"datum":5.5,"type":"quantitative"},"y":{"datum":110,"type":"quantitative"},"text":{"field":"r"}}},
  {"mark":{"type":"text","fontSize":12,"fontWeight":"bold","align":"left","baseline":"alphabetic","dy":-7.5},"encoding":{"x":{"datum":90.3,"type":"quantitative"},"y":{"datum":0,"type":"quantitative"},"text":{"field":"n"}}}
 ]},
{"width":82,"height":128,"data":{"values":[]},"mark":"point"},
{"width":192,"height":128,"data":{"values":[{"r":"= 0.4927","n":"n=92"}]},
 "layer":[
  {"data":{"name":"B_D"},"mark":{"type":"point","shape":"circle","filled":false,"color":"#8c8c8c","size":22,"strokeWidth":0.9},
   "encoding":{"x":{"field":"x","type":"quantitative","scale":{"domain":[0,90],"nice":false},"axis":{"values":[0,20,40,60,80],"tickCount":12,"title":"COMRIS-CDO-SDMT"}},
    "y":{"field":"y","type":"quantitative","scale":{"domain":[0,90],"nice":false},"axis":{"values":[0,20,40,60,80],"tickCount":12,"title":"SDMT","titleX":-31.5}}}},
  {"data":{"values":[{"x1":29.6,"y1":30.9,"x2":65,"y2":60.6}]},"mark":{"type":"rule","color":"black","strokeWidth":1.5},
   "encoding":{"x":{"field":"x1","type":"quantitative"},"y":{"field":"y1","type":"quantitative"},"x2":{"field":"x2"},"y2":{"field":"y2"}}},
  {"data":{"values":[{"x1":24.1,"y1":23.9,"x2":70.5,"y2":66.4}]},"mark":{"type":"rule","color":"#3333b3","strokeWidth":1.5,"strokeDash":[2,1.5]},
   "encoding":{"x":{"field":"x1","type":"quantitative"},"y":{"field":"y1","type":"quantitative"},"x2":{"field":"x2"},"y2":{"field":"y2"}}},
  {"mark":{"type":"text","text":"r","fontSize":12,"fontWeight":"bold","align":"left","baseline":"alphabetic","dy":3.5},"encoding":{"x":{"datum":5.4,"type":"quantitative"},"y":{"datum":90,"type":"quantitative"}}},
  {"mark":{"type":"text","text":"Spearman","fontSize":7,"fontWeight":"bold","align":"left","baseline":"alphabetic","dx":4.8,"dy":6.5},"encoding":{"x":{"datum":5.4,"type":"quantitative"},"y":{"datum":90,"type":"quantitative"}}},
  {"mark":{"type":"text","fontSize":12,"fontWeight":"bold","align":"left","baseline":"alphabetic","dx":41,"dy":3.5},"encoding":{"x":{"datum":5.4,"type":"quantitative"},"y":{"datum":90,"type":"quantitative"},"text":{"field":"r"}}},
  {"mark":{"type":"text","fontSize":12,"fontWeight":"bold","align":"left","baseline":"alphabetic","dy":-7.5},"encoding":{"x":{"datum":73.7,"type":"quantitative"},"y":{"datum":0,"type":"quantitative"},"text":{"field":"n"}}}
 ]},
{"width":192,"height":128,"data":{"values":[{"r":"= 0.7332","n":"n=277","letter":"C","title":"MS-only Cohort"}]},
 "layer":[
  {"data":{"name":"C_E"},"mark":{"type":"point","shape":"circle","filled":false,"color":"#8c8c8c","size":22,"strokeWidth":0.9},
   "encoding":{"x":{"field":"x","type":"quantitative","scale":{"domain":[0,10],"nice":false},"axis":{"values":[0,2,4,6,8,10],"tickCount":12,"title":"COMRIS-PDO-EDSS"}},
    "y":{"field":"y","type":"quantitative","scale":{"domain":[0,10],"nice":false},"axis":{"values":[0,2,4,6,8,10],"tickCount":12,"title":"EDSS","titleX":-26}}}},
  {"data":{"values":[{"x1":0.2,"y1":0.26,"x2":7.75,"y2":7.86}]},"mark":{"type":"rule","color":"black","strokeWidth":1.5},
   "encoding":{"x":{"field":"x1","type":"quantitative"},"y":{"field":"y1","type":"quantitative"},"x2":{"field":"x2"},"y2":{"field":"y2"}}},
  {"data":{"values":[{"x1":0.3,"y1":0.57,"x2":7.15,"y2":7.6}]},"mark":{"type":"rule","color":"#3333b3","strokeWidth":1.5,"strokeDash":[2,1.5]},
   "encoding":{"x":{"field":"x1","type":"quantitative"},"y":{"field":"y1","type":"quantitative"},"x2":{"field":"x2"},"y2":{"field":"y2"}}},
  {"mark":{"type":"text","text":"r","fontSize":12,"fontWeight":"bold","align":"left","baseline":"alphabetic","dy":3.5},"encoding":{"x":{"datum":0.3,"type":"quantitative"},"y":{"datum":10,"type":"quantitative"}}},
  {"mark":{"type":"text","text":"Spearman","fontSize":7,"fontWeight":"bold","align":"left","baseline":"alphabetic","dx":4.8,"dy":6.5},"encoding":{"x":{"datum":0.3,"type":"quantitative"},"y":{"datum":10,"type":"quantitative"}}},
  {"mark":{"type":"text","fontSize":12,"fontWeight":"bold","align":"left","baseline":"alphabetic","dx":41,"dy":3.5},"encoding":{"x":{"datum":0.3,"type":"quantitative"},"y":{"datum":10,"type":"quantitative"},"text":{"field":"r"}}},
  {"mark":{"type":"text","fontSize":12,"fontWeight":"bold","align":"left","baseline":"alphabetic","dy":-7.5},"encoding":{"x":{"datum":8.19,"type":"quantitative"},"y":{"datum":0,"type":"quantitative"},"text":{"field":"n"}}},
  {"mark":{"type":"text","fontSize":31,"fontWeight":"bold","align":"left","baseline":"alphabetic"},"encoding":{"x":{"datum":-3.958,"type":"quantitative"},"y":{"datum":11.62,"type":"quantitative"},"text":{"field":"letter"}}},
  {"mark":{"type":"rule","color":"#3c3c3c","strokeWidth":1.6},"encoding":{"x":{"datum":-1.979,"type":"quantitative"},"x2":{"datum":37.71},"y":{"datum":11.7,"type":"quantitative"}}},
  {"mark":{"type":"text","font":"Lato","fontSize":19,"fontWeight":"bold","align":"left","baseline":"alphabetic"},"encoding":{"x":{"datum":13.89,"type":"quantitative"},"y":{"datum":12.16,"type":"quantitative"},"text":{"field":"title"}}}
 ]},
{"width":59,"height":128,"data":{"values":[]},"mark":"point"},
{"width":192,"height":128,"data":{"values":[{"r":"= 0.7510","n":"n=277"}]},
 "layer":[
  {"data":{"name":"C_S"},"mark":{"type":"point","shape":"circle","filled":false,"color":"#8c8c8c","size":22,"strokeWidth":0.9},
   "encoding":{"x":{"field":"x","type":"quantitative","scale":{"domain":[0,110],"nice":false},"axis":{"values":[0,20,40,60,80,100],"tickCount":12,"title":"COMRIS-PDO-SNRS"}},
    "y":{"field":"y","type":"quantitative","scale":{"domain":[0,110],"nice":false},"axis":{"values":[0,20,40,60,80,100],"tickCount":12,"title":"SNRS","titleX":-27.5}}}},
  {"data":{"values":[{"x1":47.3,"y1":46.4,"x2":101,"y2":103.5}]},"mark":{"type":"rule","color":"black","strokeWidth":1.5},
   "encoding":{"x":{"field":"x1","type":"quantitative"},"y":{"field":"y1","type":"quantitative"},"x2":{"field":"x2"},"y2":{"field":"y2"}}},
  {"data":{"values":[{"x1":48.9,"y1":47.9,"x2":100,"y2":100}]},"mark":{"type":"rule","color":"#3333b3","strokeWidth":1.5,"strokeDash":[2,1.5]},
   "encoding":{"x":{"field":"x1","type":"quantitative"},"y":{"field":"y1","type":"quantitative"},"x2":{"field":"x2"},"y2":{"field":"y2"}}},
  {"mark":{"type":"text","text":"r","fontSize":12,"fontWeight":"bold","align":"left","baseline":"alphabetic","dy":3.5},"encoding":{"x":{"datum":5.5,"type":"quantitative"},"y":{"datum":110,"type":"quantitative"}}},
  {"mark":{"type":"text","text":"Spearman","fontSize":7,"fontWeight":"bold","align":"left","baseline":"alphabetic","dx":4.8,"dy":6.5},"encoding":{"x":{"datum":5.5,"type":"quantitative"},"y":{"datum":110,"type":"quantitative"}}},
  {"mark":{"type":"text","fontSize":12,"fontWeight":"bold","align":"left","baseline":"alphabetic","dx":41,"dy":3.5},"encoding":{"x":{"datum":5.5,"type":"quantitative"},"y":{"datum":110,"type":"quantitative"},"text":{"field":"r"}}},
  {"mark":{"type":"text","fontSize":12,"fontWeight":"bold","align":"left","baseline":"alphabetic","dy":-7.5},"encoding":{"x":{"datum":90.3,"type":"quantitative"},"y":{"datum":0,"type":"quantitative"},"text":{"field":"n"}}}
 ]},
{"width":82,"height":128,"data":{"values":[]},"mark":"point"},
{"width":192,"height":128,"data":{"values":[{"r":"= 0.6825","n":"n=240"}]},
 "layer":[
  {"data":{"name":"C_D"},"mark":{"type":"point","shape":"circle","filled":false,"color":"#8c8c8c","size":22,"strokeWidth":0.9},
   "encoding":{"x":{"field":"x","type":"quantitative","scale":{"domain":[0,90],"nice":false},"axis":{"values":[0,20,40,60,80],"tickCount":12,"title":"COMRIS-CDO-SDMT"}},
    "y":{"field":"y","type":"quantitative","scale":{"domain":[0,90],"nice":false},"axis":{"values":[0,20,40,60,80],"tickCount":12,"title":"SDMT","titleX":-31.5}}}},
  {"data":{"values":[{"x1":24.2,"y1":21.5,"x2":63.6,"y2":66.4}]},"mark":{"type":"rule","color":"black","strokeWidth":1.5},
   "encoding":{"x":{"field":"x1","type":"quantitative"},"y":{"field":"y1","type":"quantitative"},"x2":{"field":"x2"},"y2":{"field":"y2"}}},
  {"data":{"values":[{"x1":24.2,"y1":24.4,"x2":66,"y2":64.8}]},"mark":{"type":"rule","color":"#3333b3","strokeWidth":1.5,"strokeDash":[2,1.5]},
   "encoding":{"x":{"field":"x1","type":"quantitative"},"y":{"field":"y1","type":"quantitative"},"x2":{"field":"x2"},"y2":{"field":"y2"}}},
  {"mark":{"type":"text","text":"r","fontSize":12,"fontWeight":"bold","align":"left","baseline":"alphabetic","dy":3.5},"encoding":{"x":{"datum":5.4,"type":"quantitative"},"y":{"datum":90,"type":"quantitative"}}},
  {"mark":{"type":"text","text":"Spearman","fontSize":7,"fontWeight":"bold","align":"left","baseline":"alphabetic","dx":4.8,"dy":6.5},"encoding":{"x":{"datum":5.4,"type":"quantitative"},"y":{"datum":90,"type":"quantitative"}}},
  {"mark":{"type":"text","fontSize":12,"fontWeight":"bold","align":"left","baseline":"alphabetic","dx":41,"dy":3.5},"encoding":{"x":{"datum":5.4,"type":"quantitative"},"y":{"datum":90,"type":"quantitative"},"text":{"field":"r"}}},
  {"mark":{"type":"text","fontSize":12,"fontWeight":"bold","align":"left","baseline":"alphabetic","dy":-7.5},"encoding":{"x":{"datum":73.7,"type":"quantitative"},"y":{"datum":0,"type":"quantitative"},"text":{"field":"n"}}}
 ]}
]
}
